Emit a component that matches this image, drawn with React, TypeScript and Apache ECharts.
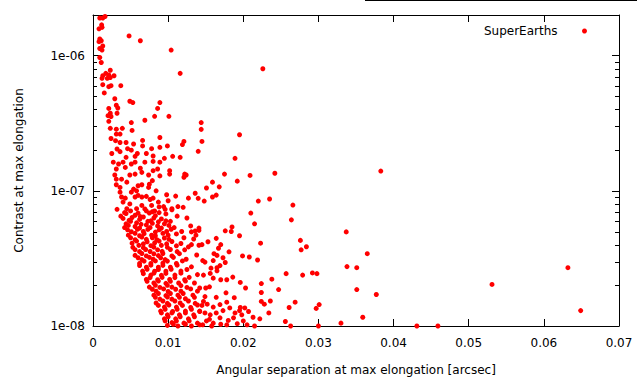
import React, { useEffect, useRef } from "react";
import * as echarts from "echarts";

// Tick values
const xTickInterval = 0.01;
const xMin = 0;
const xMax = 0.07;
const yMin = 1e-8;
const yMax = 2e-6;
const yMinorTicks = [
  2e-8, 3e-8, 4e-8, 5e-8, 6e-8, 7e-8, 8e-8, 9e-8,
  2e-7, 3e-7, 4e-7, 5e-7, 6e-7, 7e-7, 8e-7, 9e-7,
];

const seriesName = "SuperEarths";

// [angular separation (arcsec), contrast]
const upperPoints = [
  [0.0009, 1.9e-6], [0.0013, 1.9e-6], [0.0016, 1.95e-6],
  [0.00115, 1.69e-6], [0.0012, 1.62e-6], [0.0008, 1.58e-6],
  [0.0009, 1.33e-6], [0.0011, 1.29e-6], [0.0008, 1.27e-6],
  [0.0013, 1.18e-6], [0.0009, 1.13e-6], [0.0012, 1.1e-6],
  [0.0048, 1.4e-6], [0.0063, 1.29e-6], [0.0104, 1.1e-6],
  [0.0009, 9.7e-7], [0.0011, 8.9e-7], [0.0116, 7.4e-7], [0.0226, 8.0e-7],
  [0.0023, 7.8e-7], [0.0017, 7.4e-7], [0.0013, 7.1e-7], [0.0021, 7.2e-7], [0.0028, 7.1e-7],
  [0.0012, 6.8e-7], [0.0019, 6.8e-7], [0.0023, 6.9e-7],
  [0.0013, 6.1e-7], [0.0021, 5.9e-7], [0.0024, 6.0e-7], [0.0037, 6.0e-7],
  [0.0015, 5.3e-7], [0.0029, 4.8e-7],
  [0.0021, 4.07e-7], [0.0031, 4.3e-7], [0.0033, 4.1e-7],
  [0.0049, 4.6e-7], [0.0053, 4.5e-7], [0.0089, 4.5e-7], [0.0086, 4.07e-7],
  [0.002, 3.6e-7], [0.0023, 3.75e-7], [0.0024, 3.55e-7], [0.0032, 3.75e-7],
  [0.0021, 3.27e-7], [0.0051, 3.2e-7], [0.0069, 3.33e-7], [0.0082, 3.56e-7],
  [0.0101, 3.56e-7], [0.0144, 3.2e-7],
];

const midPoints = [
  [0.0023, 2.9e-7], [0.0031, 2.86e-7], [0.0039, 2.9e-7], [0.0052, 2.8e-7], [0.0036, 2.63e-7], [0.0031, 2.63e-7],
  [0.0024, 2.44e-7], [0.003, 2.35e-7], [0.0036, 2.28e-7], [0.0044, 2.28e-7], [0.0054, 2.22e-7],
  [0.0066, 2.36e-7], [0.0089, 2.48e-7], [0.0119, 2.2e-7], [0.0121, 2.32e-7], [0.0145, 2.32e-7],
  [0.0099, 2.15e-7], [0.0066, 2.15e-7], [0.0089, 2.1e-7],
  [0.0032, 2.04e-7], [0.0046, 2.05e-7], [0.0051, 2.0e-7], [0.0059, 1.89e-7], [0.0071, 1.89e-7],
  [0.0078, 2.05e-7], [0.0025, 1.89e-7], [0.0036, 1.95e-7], [0.0044, 1.77e-7], [0.0056, 1.8e-7],
  [0.008, 1.81e-7], [0.0095, 1.74e-7], [0.0106, 1.8e-7], [0.0116, 1.77e-7], [0.014, 1.96e-7],
  [0.0027, 1.63e-7], [0.0034, 1.58e-7], [0.004, 1.63e-7], [0.0051, 1.58e-7], [0.0031, 1.45e-7],
  [0.0043, 1.49e-7], [0.0056, 1.63e-7], [0.0069, 1.63e-7], [0.008, 1.65e-7], [0.0089, 1.63e-7],
  [0.0063, 1.47e-7], [0.008, 1.41e-7], [0.0086, 1.45e-7], [0.0102, 1.41e-7], [0.0124, 1.31e-7],
  [0.0121, 1.26e-7], [0.0029, 1.31e-7], [0.0031, 1.22e-7], [0.0038, 1.22e-7], [0.0049, 1.31e-7],
  [0.0056, 1.33e-7], [0.0065, 1.37e-7], [0.0074, 1.31e-7], [0.0079, 1.19e-7], [0.0075, 1.12e-7],
  [0.0089, 1.29e-7], [0.0031, 1.11e-7], [0.0036, 1.06e-7], [0.0045, 1.16e-7], [0.0054, 1.03e-7],
  [0.006, 1.09e-7], [0.0065, 1.11e-7], [0.0074, 1.06e-7], [0.0084, 1.0e-7], [0.0102, 1.33e-7],
  [0.0122, 1.33e-7], [0.0127, 8.83e-8], [0.0098, 9.35e-8], [0.011, 9.14e-8], [0.0036, 9.78e-8],
  [0.0038, 9.0e-8], [0.0043, 8.83e-8], [0.0051, 9.78e-8], [0.0058, 1.0e-7], [0.0056, 9.0e-8],
  [0.006, 9.25e-8], [0.0065, 9.0e-8], [0.0071, 9.1e-8], [0.0076, 8.63e-8], [0.008, 8.83e-8],
  [0.0087, 8.26e-8], [0.0088, 7.6e-8], [0.0094, 7.65e-8], [0.0078, 7.8e-8], [0.0065, 7.8e-8],
  [0.0049, 8.0e-8], [0.004, 8.26e-8], [0.01, 8.45e-8], [0.0105, 7.38e-8], [0.0113, 7.65e-8],
  [0.012, 7.55e-8], [0.0045, 7.38e-8], [0.0058, 7.38e-8], [0.0071, 7.1e-8], [0.0082, 7.1e-8],
  [0.0096, 7.3e-8],
];

const bandPoints = [
  [0.0032, 7.3e-8], [0.0042, 6.9e-8], [0.005, 7.1e-8], [0.006, 6.85e-8], [0.0069, 7.35e-8], [0.0079, 7.0e-8], [0.0088, 6.9e-8], [0.0105, 7.25e-8],
  [0.0037, 6.5e-8], [0.0044, 6.8e-8], [0.0056, 6.6e-8], [0.0063, 6.45e-8], [0.0075, 6.85e-8], [0.0083, 6.55e-8], [0.0097, 6.75e-8], [0.0112, 6.5e-8],
  [0.004, 6.25e-8], [0.0048, 6.05e-8], [0.0052, 6.35e-8], [0.0062, 6.15e-8], [0.0067, 6.4e-8], [0.0077, 6.0e-8], [0.0081, 6.3e-8], [0.0091, 6.2e-8], [0.0097, 6.0e-8], [0.0125, 6.3e-8],
  [0.0044, 5.7e-8], [0.005, 5.95e-8], [0.0058, 5.8e-8], [0.0064, 5.65e-8], [0.0073, 5.95e-8], [0.0079, 5.75e-8], [0.0087, 5.9e-8], [0.0095, 5.7e-8], [0.0103, 5.95e-8],
  [0.0042, 5.35e-8], [0.0047, 5.55e-8], [0.0056, 5.45e-8], [0.0062, 5.3e-8], [0.0071, 5.6e-8], [0.0076, 5.35e-8], [0.0086, 5.5e-8], [0.0091, 5.3e-8], [0.0101, 5.55e-8], [0.0108, 5.35e-8], [0.013, 5.5e-8],
  [0.0046, 5.15e-8], [0.0051, 4.98e-8], [0.0059, 5.2e-8], [0.0067, 5.0e-8], [0.0073, 5.18e-8], [0.0083, 4.95e-8], [0.0088, 5.15e-8], [0.0098, 5.0e-8], [0.0104, 5.2e-8], [0.0118, 5.0e-8],
  [0.0047, 4.7e-8], [0.0056, 4.85e-8], [0.0062, 4.65e-8], [0.0068, 4.82e-8], [0.0078, 4.7e-8], [0.0083, 4.65e-8], [0.0093, 4.85e-8], [0.01, 4.7e-8], [0.0111, 4.8e-8],
  [0.005, 4.5e-8], [0.0056, 4.35e-8], [0.0065, 4.55e-8], [0.0071, 4.38e-8], [0.0079, 4.5e-8], [0.0085, 4.35e-8], [0.0095, 4.48e-8], [0.0101, 4.38e-8], [0.0121, 4.5e-8], [0.0134, 4.4e-8],
  [0.0052, 4.1e-8], [0.0058, 4.25e-8], [0.0067, 4.05e-8], [0.0072, 4.2e-8], [0.0082, 4.12e-8], [0.0088, 4.25e-8], [0.0098, 4.05e-8], [0.0105, 4.22e-8], [0.0117, 4.08e-8],
  [0.0053, 3.82e-8], [0.0061, 3.95e-8], [0.0067, 3.8e-8], [0.0077, 3.93e-8], [0.0081, 3.83e-8], [0.0091, 3.95e-8], [0.0099, 3.82e-8], [0.0111, 3.92e-8], [0.0127, 3.85e-8],
  [0.0056, 3.67e-8], [0.0062, 3.55e-8], [0.007, 3.68e-8], [0.0076, 3.56e-8], [0.0086, 3.66e-8], [0.0092, 3.57e-8], [0.0103, 3.68e-8], [0.0112, 3.55e-8], [0.0122, 3.66e-8],
  [0.0056, 3.33e-8], [0.0065, 3.44e-8], [0.0071, 3.3e-8], [0.0081, 3.42e-8], [0.0087, 3.32e-8], [0.0093, 3.44e-8], [0.0105, 3.3e-8], [0.0115, 3.43e-8], [0.0138, 3.35e-8],
  [0.006, 3.2e-8], [0.0065, 3.1e-8], [0.0075, 3.22e-8], [0.008, 3.12e-8], [0.009, 3.2e-8], [0.0096, 3.1e-8], [0.0107, 3.22e-8], [0.0124, 3.12e-8],
  [0.0062, 2.9e-8], [0.0068, 3.02e-8], [0.0077, 2.9e-8], [0.0083, 3.03e-8], [0.0093, 2.92e-8], [0.0099, 3.02e-8], [0.0111, 2.9e-8], [0.0119, 3.03e-8],
  [0.0062, 2.8e-8], [0.0071, 2.72e-8], [0.0077, 2.82e-8], [0.0087, 2.72e-8], [0.0093, 2.81e-8], [0.0103, 2.72e-8], [0.0112, 2.82e-8], [0.0131, 2.74e-8],
  [0.0066, 2.55e-8], [0.0072, 2.63e-8], [0.0082, 2.54e-8], [0.0087, 2.62e-8], [0.0097, 2.54e-8], [0.0104, 2.63e-8], [0.0117, 2.55e-8], [0.0125, 2.62e-8],
  [0.0067, 2.44e-8], [0.0077, 2.38e-8], [0.0081, 2.46e-8], [0.0091, 2.37e-8], [0.0097, 2.45e-8], [0.0109, 2.38e-8], [0.0117, 2.46e-8], [0.0139, 2.4e-8],
  [0.0071, 2.21e-8], [0.0076, 2.28e-8], [0.0086, 2.2e-8], [0.0092, 2.29e-8], [0.0102, 2.21e-8], [0.0109, 2.28e-8], [0.0122, 2.2e-8], [0.0128, 2.29e-8],
  [0.0072, 2.14e-8], [0.0081, 2.08e-8], [0.0087, 2.15e-8], [0.0097, 2.07e-8], [0.0103, 2.14e-8], [0.0114, 2.08e-8], [0.0123, 2.15e-8], [0.0135, 2.08e-8],
  [0.0075, 1.94e-8], [0.0083, 2.0e-8], [0.0089, 1.93e-8], [0.0099, 2.0e-8], [0.0105, 1.94e-8], [0.0117, 1.99e-8], [0.0125, 1.93e-8],
  [0.0079, 1.87e-8], [0.0084, 1.81e-8], [0.0094, 1.88e-8], [0.01, 1.8e-8], [0.011, 1.87e-8], [0.0117, 1.81e-8], [0.013, 1.88e-8], [0.0139, 1.81e-8],
  [0.0081, 1.69e-8], [0.0087, 1.74e-8], [0.0097, 1.68e-8], [0.0103, 1.74e-8], [0.0113, 1.69e-8], [0.012, 1.74e-8], [0.0133, 1.69e-8],
  [0.0083, 1.63e-8], [0.0089, 1.58e-8], [0.0099, 1.64e-8], [0.0105, 1.58e-8], [0.0115, 1.63e-8], [0.0123, 1.59e-8], [0.0135, 1.63e-8],
  [0.0084, 1.48e-8], [0.0093, 1.53e-8], [0.0099, 1.47e-8], [0.0109, 1.53e-8], [0.0116, 1.48e-8], [0.0127, 1.53e-8], [0.0136, 1.47e-8],
  [0.0087, 1.42e-8], [0.0095, 1.38e-8], [0.0101, 1.43e-8], [0.0111, 1.38e-8], [0.0119, 1.42e-8], [0.013, 1.37e-8], [0.0139, 1.43e-8],
  [0.009, 1.29e-8], [0.0096, 1.33e-8], [0.0106, 1.28e-8], [0.0112, 1.33e-8], [0.0123, 1.29e-8], [0.0131, 1.33e-8], [0.0142, 1.29e-8],
  [0.0091, 1.25e-8], [0.0099, 1.21e-8], [0.0105, 1.25e-8], [0.0115, 1.21e-8], [0.0123, 1.25e-8], [0.0134, 1.21e-8],
  [0.0095, 1.13e-8], [0.01, 1.17e-8], [0.011, 1.13e-8], [0.0116, 1.17e-8], [0.0127, 1.13e-8], [0.0135, 1.17e-8],
  [0.0096, 1.09e-8], [0.0105, 1.06e-8], [0.0111, 1.09e-8], [0.0121, 1.05e-8], [0.0128, 1.09e-8], [0.0139, 1.05e-8],
  [0.0099, 1.01e-8], [0.0107, 1.03e-8], [0.0113, 1.0e-8], [0.0123, 1.03e-8], [0.0131, 1.0e-8], [0.0142, 1.02e-8],
];

const lowerPoints = [
  [0.0176, 5.06e-8], [0.0185, 5.41e-8], [0.0184, 5.0e-8], [0.0195, 4.65e-8], [0.0215, 5.7e-8], [0.0264, 6.1e-8],
  [0.0145, 4.0e-8], [0.0153, 4.2e-8], [0.0164, 4.45e-8], [0.017, 4.0e-8], [0.0167, 3.76e-8], [0.0181, 3.54e-8],
  [0.0161, 3.43e-8], [0.0165, 3.33e-8], [0.016, 3.05e-8], [0.0146, 3.05e-8], [0.0149, 2.97e-8], [0.0173, 3.2e-8],
  [0.0176, 2.95e-8], [0.0169, 2.8e-8], [0.0199, 3.3e-8], [0.0208, 3.24e-8], [0.0219, 3.08e-8], [0.0223, 4.1e-8],
  [0.0276, 4.3e-8], [0.0277, 3.66e-8], [0.0284, 3.86e-8], [0.0147, 2.38e-8], [0.0156, 2.45e-8], [0.0165, 2.7e-8],
  [0.0165, 2.56e-8], [0.0157, 2.68e-8], [0.016, 2.26e-8], [0.017, 2.2e-8], [0.0178, 2.2e-8], [0.0186, 2.3e-8],
  [0.0196, 2.1e-8], [0.0203, 1.91e-8], [0.0224, 2.06e-8], [0.0238, 2.22e-8], [0.0247, 1.86e-8], [0.0257, 2.44e-8],
  [0.0279, 2.38e-8], [0.0142, 1.91e-8], [0.015, 1.91e-8], [0.0155, 1.95e-8], [0.0164, 1.63e-8], [0.0177, 1.76e-8],
  [0.0188, 1.62e-8], [0.0178, 1.5e-8], [0.0169, 1.44e-8], [0.0149, 1.65e-8], [0.0147, 1.52e-8], [0.0145, 1.42e-8],
  [0.0224, 1.77e-8], [0.0224, 1.52e-8], [0.0228, 1.45e-8], [0.0236, 1.53e-8], [0.0234, 1.25e-8], [0.0261, 1.37e-8],
  [0.0269, 1.5e-8], [0.0142, 1.28e-8], [0.0149, 1.25e-8], [0.0156, 1.21e-8], [0.0164, 1.25e-8], [0.0173, 1.3e-8],
  [0.0182, 1.36e-8], [0.0189, 1.25e-8], [0.0196, 1.37e-8], [0.0202, 1.36e-8], [0.0198, 1.21e-8], [0.0207, 1.28e-8],
  [0.0213, 1.16e-8], [0.0222, 1.13e-8], [0.0215, 1.0e-8], [0.0187, 1.15e-8], [0.0169, 1.15e-8], [0.016, 1.05e-8],
  [0.0151, 1.09e-8], [0.0178, 1.02e-8], [0.02, 1.09e-8], [0.0256, 1.08e-8], [0.0263, 1.0e-8],
  [0.0146, 1.02e-8], [0.0158, 1.0e-8], [0.017, 1.03e-8], [0.0192, 1.04e-8], [0.0205, 1.02e-8], [0.0155, 1.12e-8],
  [0.018, 1.1e-8], [0.0195, 1.3e-8], [0.016, 1.38e-8], [0.0152, 1.45e-8],
];

const outerPoints = [
  [0.0144, 2.85e-7], [0.0195, 2.6e-7], [0.0189, 1.74e-7], [0.0175, 1.33e-7], [0.0192, 1.18e-7], [0.0209, 1.3e-7],
  [0.0242, 1.35e-7], [0.0159, 1.16e-7], [0.0151, 1.05e-7], [0.0168, 1.07e-7], [0.0136, 9.6e-8], [0.014, 8.8e-8],
  [0.0148, 8.4e-8], [0.0159, 9.0e-8], [0.0164, 9.3e-8], [0.022, 8.4e-8], [0.0235, 8.7e-8], [0.0266, 7.85e-8],
  [0.021, 6.85e-8], [0.0141, 5.3e-8], [0.0141, 5.1e-8], [0.0136, 5.05e-8], [0.0131, 4.97e-8], [0.0137, 4.7e-8],
  [0.0131, 4.0e-8], [0.0141, 3.96e-8], [0.0292, 2.47e-8], [0.0298, 2.44e-8], [0.0297, 1.35e-8], [0.0301, 1.44e-8],
  [0.03, 1.0e-8], [0.0383, 1.4e-7], [0.0337, 4.97e-8], [0.0365, 3.43e-8], [0.0338, 2.75e-8], [0.0351, 2.7e-8],
  [0.0351, 1.86e-8], [0.0377, 1.71e-8], [0.0359, 1.16e-8], [0.033, 1.05e-8], [0.0431, 1.0e-8], [0.0459, 1.0e-8],
  [0.0531, 2.03e-8], [0.0632, 2.7e-8], [0.0649, 1.3e-8],
];

const allPoints = [...upperPoints, ...midPoints, ...bandPoints, ...lowerPoints, ...outerPoints];

const FONT = "DejaVu Sans";

function yLabel(v: number): string {
  const l = Math.log10(v);
  const e = Math.round(l);
  if (Math.abs(l - e) > 1e-6) return "";
  return "1e-" + String(-e).padStart(2, "0");
}

function xLabel(v: number): string {
  return String(Number(v.toFixed(2)));
}

export default function App() {
  const ref = useRef<HTMLDivElement>(null);
  useEffect(() => {
    if (!ref.current) return;
    const chart = echarts.init(ref.current, undefined, { renderer: "svg" });
    const axisLine = { show: true, onZero: false, lineStyle: { color: "#000", width: 1 } };
    const tick = { show: true, inside: true, length: 7, lineStyle: { color: "#000", width: 1 } };
    const tickStyle = { stroke: "#000", lineWidth: 1 };
    chart.setOption({
      animation: false,
      backgroundColor: "#fff",
      grid: { left: 93, right: 18, top: 15, bottom: 52, containLabel: false },
      legend: {
        data: [seriesName],
        right: 50,
        top: 25,
        padding: 0,
        align: "right",
        icon: "circle",
        itemWidth: 44,
        itemHeight: 5,
        textStyle: { fontSize: 12, color: "#000", fontFamily: FONT },
      },
      xAxis: [
        {
          type: "value",
          position: "bottom",
          min: xMin,
          max: xMax,
          interval: xTickInterval,
          axisLine,
          axisTick: tick,
          splitLine: { show: false },
          axisLabel: { color: "#000", fontSize: 12, fontFamily: FONT, margin: 11, formatter: xLabel },
          name: "Angular separation at max elongation [arcsec]",
          nameLocation: "middle",
          nameGap: 38,
          nameTextStyle: { color: "#000", fontSize: 12, fontFamily: FONT },
        },
        {
          type: "value",
          position: "top",
          min: xMin,
          max: xMax,
          interval: xTickInterval,
          axisLine,
          axisTick: tick,
          splitLine: { show: false },
          axisLabel: { show: false },
        },
      ],
      yAxis: [
        {
          type: "log",
          logBase: 10,
          position: "left",
          min: yMin,
          max: yMax,
          axisLine,
          axisTick: tick,
          splitLine: { show: false },
          axisLabel: {
            color: "#000",
            fontSize: 12,
            fontFamily: FONT,
            margin: 8,
            formatter: yLabel,
            showMaxLabel: false,
          },
          name: "Contrast at max elongation",
          nameLocation: "middle",
          nameGap: 68,
          nameRotate: 90,
          nameTextStyle: { color: "#000", fontSize: 12, fontFamily: FONT },
        },
        {
          type: "log",
          logBase: 10,
          position: "right",
          min: yMin,
          max: yMax,
          axisLine,
          axisTick: tick,
          splitLine: { show: false },
          axisLabel: { show: false },
        },
      ],
      graphic: [
        {
          type: "line",
          shape: { x1: 365, y1: 0.5, x2: 637, y2: 0.5 },
          style: { stroke: "#000", lineWidth: 1 },
        },
      ],
      series: [
        {
          name: "minorTicks",
          type: "custom",
          coordinateSystem: "cartesian2d",
          xAxisIndex: 0,
          yAxisIndex: 0,
          silent: true,
          encode: { x: 0, y: 1 },
          data: yMinorTicks.map((v) => [0, v]),
          renderItem: (params: any, api: any) => {
            const p = api.coord([0, api.value(1)]);
            const cs = params.coordSys;
            const y = Math.round(p[1]) + 0.5;
            return {
              type: "group",
              children: [
                { type: "line", shape: { x1: cs.x, y1: y, x2: cs.x + 4, y2: y }, style: tickStyle },
                {
                  type: "line",
                  shape: { x1: cs.x + cs.width - 4, y1: y, x2: cs.x + cs.width, y2: y },
                  style: tickStyle,
                },
              ],
            };
          },
        },
        {
          name: seriesName,
          type: "scatter",
          xAxisIndex: 0,
          yAxisIndex: 0,
          symbol: "circle",
          symbolSize: 5,
          itemStyle: { color: "#ff0000", opacity: 1 },
          data: allPoints,
        },
      ],
    });
    return () => chart.dispose();
  }, []);
  return (
    <div
      ref={ref}
      style={{ position: "fixed", left: 0, top: 0, width: 637, height: 381, background: "#fff" }}
    />
  );
}
